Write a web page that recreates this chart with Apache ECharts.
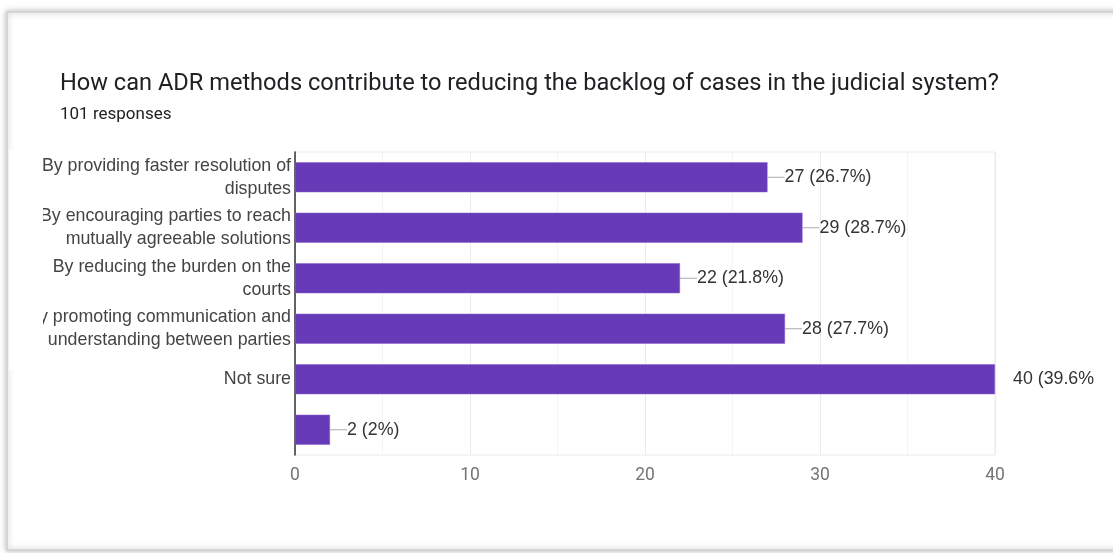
<!DOCTYPE html>
<html>
<head>
<meta charset="utf-8">
<script src="https://cdn.jsdelivr.net/npm/echarts@6/dist/echarts.min.js"></script>
<style>
  html, body { margin: 0; padding: 0; background: #fff; }
  #chart { width: 1113px; height: 553px; }
</style>
</head>
<body>
<div id="chart"></div>
<script>
// answers, top to bottom
var categories = [
    'By providing faster resolution of\ndisputes',
    'By encouraging parties to reach\nmutually agreeable solutions',
    'By reducing the burden on the\ncourts',
    'By promoting communication and\nunderstanding between parties',
    'Not sure',
    ''
];
var counts = [27, 29, 22, 28, 40, 2];
var percents = ['26.7%', '28.7%', '21.8%', '27.7%', '39.6%', '2%'];
var xTicks = [0, 10, 20, 30, 40];

var chart = echarts.init(document.getElementById('chart'));

var barData = counts.map(function (v, i) {
    var item = { value: v };
    if (v === xTicks[xTicks.length - 1]) {
        // label overflows the chart area, google clips it
        item.label = {
            formatter: '{v|' + v + ' (' + percents[i] + ')}',
            distance: 18,
            width: 84,
            overflow: 'truncate',
            ellipsis: ''
        };
    }
    return item;
});

var option = {
    animation: false,
    backgroundColor: '#fff',
    title: {
        text: 'How can ADR methods contribute to reducing the backlog of cases in the judicial system?',
        subtext: '101 responses',
        left: 55,
        top: 67,
        itemGap: 10,
        textStyle: {
            fontFamily: 'Roboto',
            fontSize: 23.6,
            fontWeight: 'normal',
            color: '#202124'
        },
        subtextStyle: {
            fontFamily: 'Roboto',
            fontSize: 17,
            color: '#202124'
        }
    },
    grid: {
        left: 295,
        right: 118,
        top: 152,
        bottom: 98,
        show: true,
        borderColor: '#ebebeb',
        borderWidth: 1
    },
    xAxis: {
        type: 'value',
        min: 0,
        max: 40,
        interval: 10,
        axisLine: { show: false },
        axisTick: { show: false },
        axisLabel: {
            margin: 12,
            fontFamily: 'Roboto',
            fontSize: 17.5,
            color: '#757575',
            formatter: function (v) { return xTicks.indexOf(v) >= 0 ? String(v) : ''; }
        },
        splitLine: { lineStyle: { color: '#ebebeb' } },
        minorTick: { show: false, splitNumber: 2 },
        minorSplitLine: { show: true, lineStyle: { color: '#f4f4f4' } }
    },
    yAxis: {
        type: 'category',
        inverse: true,
        data: categories,
        axisLine: { show: true, lineStyle: { color: '#333', width: 1.5 } },
        axisTick: { show: false },
        axisLabel: {
            margin: 4,
            fontFamily: 'Liberation Sans',
            fontSize: 17.8,
            lineHeight: 23,
            color: '#444',
            align: 'right'
        }
    },
    series: [{
        type: 'bar',
        data: barData,
        barWidth: 30,
        itemStyle: { color: '#673ab7', borderColor: '#8a63cf', borderWidth: 0.5 },
        label: {
            show: true,
            position: 'right',
            distance: 0,
            formatter: function (p) {
                return '{ln|}{v|' + p.value + ' (' + percents[p.dataIndex] + ')}';
            },
            rich: {
                ln: { width: 17, height: 1, backgroundColor: '#aaa' },
                v: {
                    fontFamily: 'Liberation Sans',
                    fontSize: 17.8,
                    color: '#333'
                }
            }
        }
    }],
    graphic: [
        {
            // card outline and shadow behind the chart
            type: 'rect',
            z: -10,
            silent: true,
            shape: { x: 7, y: 12, width: 1130, height: 538 },
            style: {
                fill: '#fff',
                stroke: '#d4d4d4',
                lineWidth: 2,
                shadowBlur: 6,
                shadowColor: 'rgba(0,0,0,0.25)'
            }
        },
        {
            // clip the left side of the long category labels
            type: 'rect',
            z: 100,
            silent: true,
            shape: { x: 9, y: 150, width: 34, height: 220 },
            style: { fill: '#fff' }
        }
    ]
};

chart.setOption(option);
</script>
</body>
</html>
